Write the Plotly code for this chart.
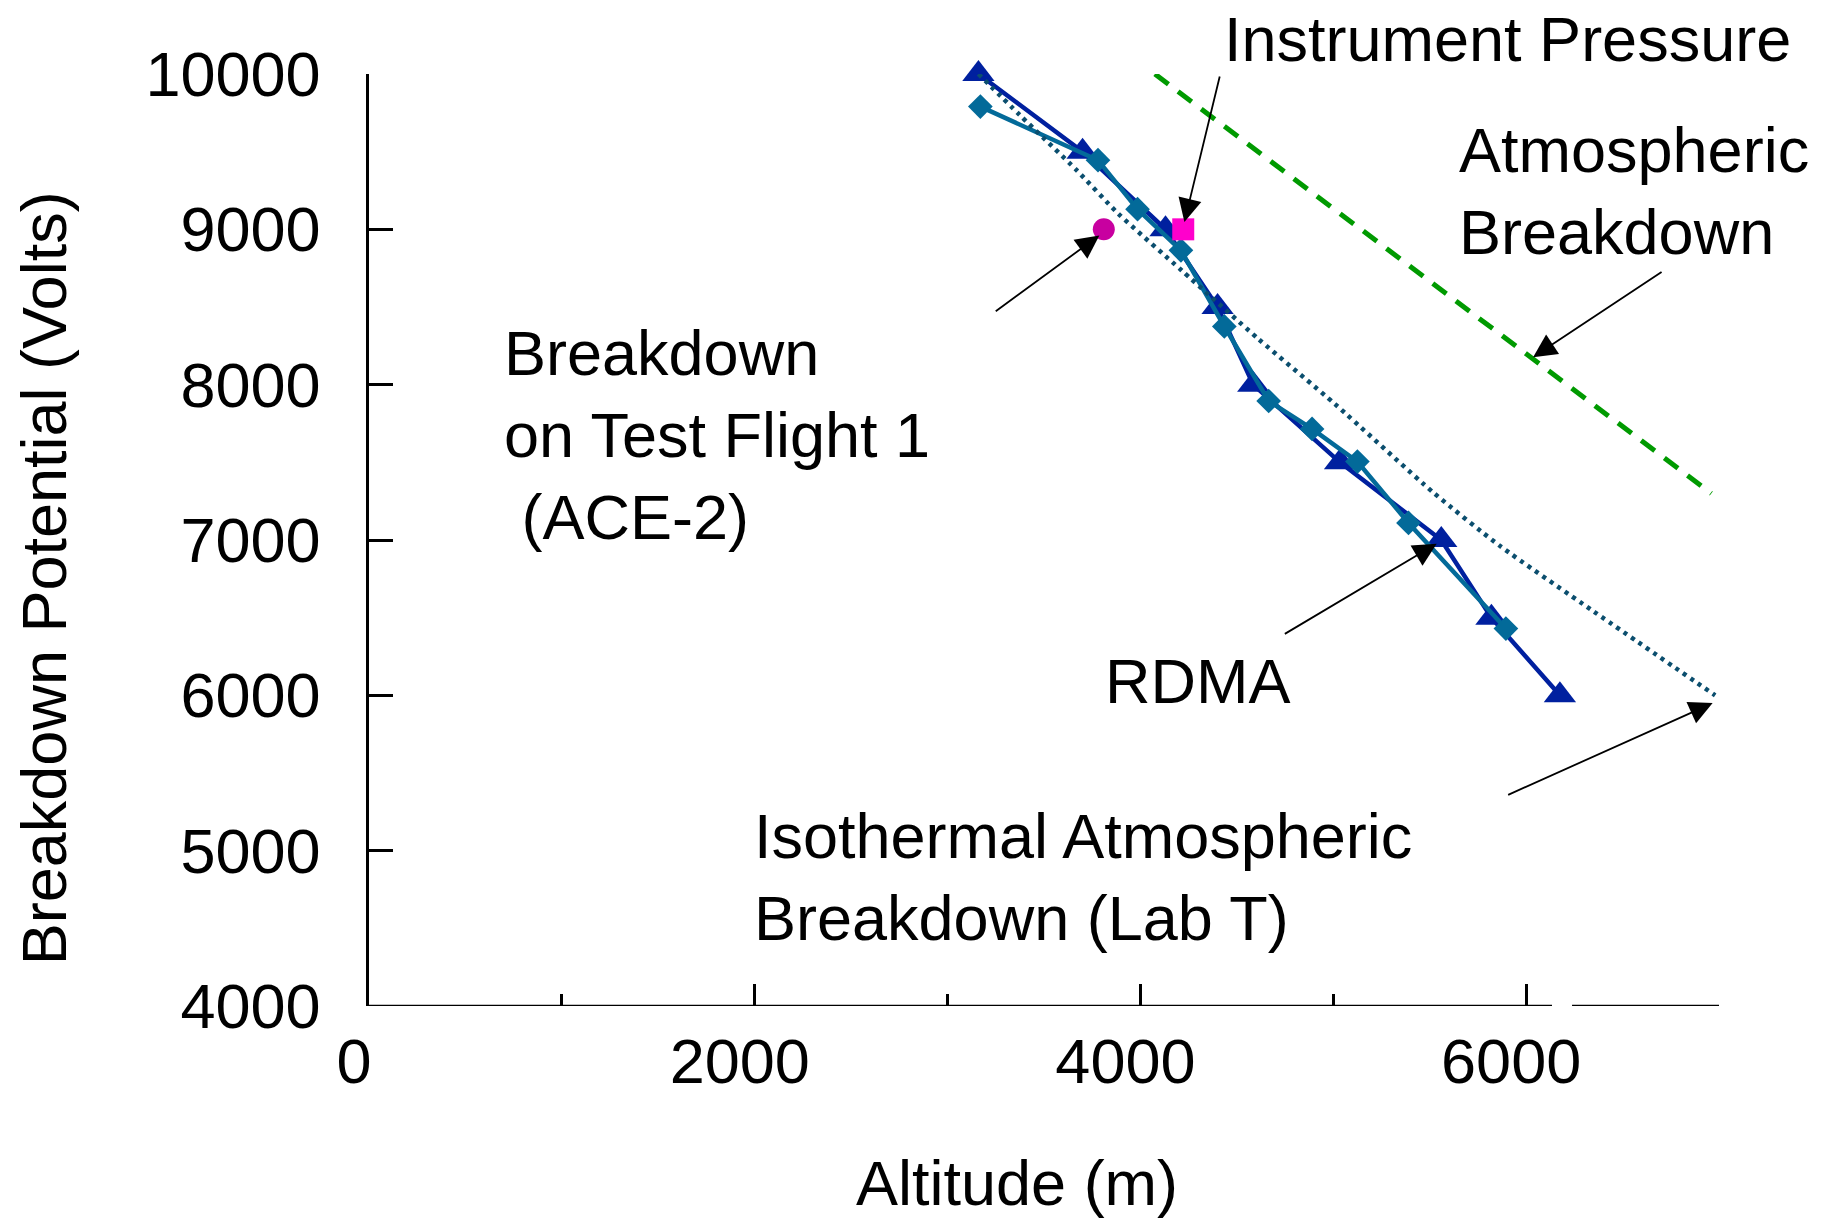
import plotly.graph_objects as go

FONT = "Liberation Sans, Arial, sans-serif"
FS = 63

# RDMA breakdown (triangles)
rdma_alt = [3160, 3700, 4130, 4400, 4585, 5035, 5560, 5820, 6175]
rdma_v = [10000, 9500, 9000, 8500, 8000, 7500, 7000, 6500, 6000]

# Second RDMA run (diamonds)
run2_alt = [3170, 3780, 3985, 4210, 4435, 4665, 4890, 5125, 5390, 5895]
run2_v = [9790, 9445, 9130, 8865, 8375, 7895, 7715, 7505, 7110, 6430]

# Isothermal atmospheric breakdown (lab temperature)
iso_alt = [3160, 3375, 3669, 3885, 4214, 4611, 5009, 5519, 5865, 6348, 6980]
iso_v = [10000, 9735, 9381, 9101, 8735, 8295, 7875, 7305, 6961, 6542, 6000]

# Atmospheric breakdown
atm_alt = [4075, 6960]
atm_v = [10000, 7300]

# Single points
flight_alt, flight_v = [3810], [9000]
instr_alt, instr_v = [4222], [9000]

# Axis break on the altitude axis
x_break = [6134, 6238]
x_min, x_max = 0, 7000
y_min, y_max = 4000, 10000

fig = go.Figure()

fig.add_trace(go.Scatter(
    x=rdma_alt, y=rdma_v, mode="lines+markers", cliponaxis=False,
    line=dict(color="#00209F", width=4.5),
    marker=dict(symbol="triangle-up", size=28, color="#00209F"),
))
fig.add_trace(go.Scatter(
    x=run2_alt, y=run2_v, mode="lines+markers", cliponaxis=False,
    line=dict(color="#036A99", width=4.5),
    marker=dict(symbol="diamond", size=19, color="#036A99"),
))
fig.add_trace(go.Scatter(
    x=iso_alt, y=iso_v, mode="lines", cliponaxis=False,
    line=dict(color="#0B4E6E", width=4.5, dash="4px,5px", shape="spline", smoothing=0.6),
))
fig.add_trace(go.Scatter(
    x=atm_alt, y=atm_v, mode="lines", cliponaxis=False,
    line=dict(color="#009A00", width=5, dash="17px,12px"),
))
fig.add_trace(go.Scatter(
    x=flight_alt, y=flight_v, mode="markers", cliponaxis=False,
    marker=dict(symbol="circle", size=22, color="#C800A0"),
))
fig.add_trace(go.Scatter(
    x=instr_alt, y=instr_v, mode="markers", cliponaxis=False,
    marker=dict(symbol="square", size=22, color="#FF00CC"),
))

# Altitude axis line, drawn in two pieces around the break
axis_line = dict(color="black", width=2.5)
fig.add_shape(type="line", xref="x", yref="y", x0=x_min, x1=x_break[0],
              y0=y_min, y1=y_min, line=axis_line)
fig.add_shape(type="line", xref="x", yref="y", x0=x_break[1], x1=x_max,
              y0=y_min, y1=y_min, line=axis_line)

text_font = dict(family=FONT, size=FS, color="black")


def label(text, x, y, xref="x", yref="y"):
    fig.add_annotation(text=text, x=x, y=y, xref=xref, yref=yref, showarrow=False,
                       xanchor="left", yanchor="middle", align="left",
                       font=text_font)


def arrow(tail, tip):
    fig.add_annotation(text="", x=tip[0], y=tip[1], ax=tail[0], ay=tail[1],
                       xref="x", yref="y", axref="x", ayref="y",
                       showarrow=True, arrowhead=2, arrowsize=2.6,
                       arrowwidth=1.8, arrowcolor="black", standoff=0)


label("Instrument Pressure", 0.6317, 1.0377, xref="paper", yref="paper")
label("Atmospheric<br>Breakdown", 5640, 9248)
label("Breakdown<br>on Test Flight 1<br>\u00a0(ACE-2)", 690, 7675)
label("RDMA", 3808, 6094)
label("Isothermal Atmospheric<br>Breakdown (Lab T)", 1985, 4830)

arrow((4413, 9994), (4228, 9047))
arrow((6710, 8732), (6036, 8177))
arrow((3242, 8466), (3787, 8961))
arrow((4741, 6390), (5536, 6976))
arrow((5899, 5355), (6967, 5950))

# Axis titles
fig.add_annotation(text="Altitude (m)", x=0.48, y=-0.19, xref="paper", yref="paper",
                   showarrow=False, xanchor="center", yanchor="middle", font=text_font)
fig.add_annotation(text="Breakdown Potential (Volts)", x=-0.2407, y=0.459,
                   xref="paper", yref="paper", showarrow=False, textangle=-90,
                   xanchor="center", yanchor="middle", font=text_font)

fig.update_layout(
    width=1821, height=1219,
    margin=dict(l=369, r=102, t=74, b=213),
    paper_bgcolor="white", plot_bgcolor="white",
    showlegend=False,
    font=dict(family=FONT, size=FS, color="black"),
)
fig.update_xaxes(
    range=[x_min, x_max], showgrid=False, zeroline=False, showline=False,
    ticks="inside", ticklen=22, tickwidth=2.5, tickcolor="black",
    tick0=0, dtick=2000, tickformat="d",
    tickfont=dict(family=FONT, size=FS, color="black"),
    ticklabelstandoff=13, ticklabelshift=-15,
    minor=dict(ticks="inside", dtick=1000, ticklen=12, tickwidth=2.5, tickcolor="black"),
)
fig.update_yaxes(
    range=[y_min, y_max], showgrid=False, zeroline=False,
    showline=True, linecolor="black", linewidth=2.5,
    ticks="inside", ticklen=24, tickwidth=2.5, tickcolor="black",
    tick0=0, dtick=1000, tickformat="d",
    tickfont=dict(family=FONT, size=FS, color="black"),
    ticklabelstandoff=33,
)

fig.write_html("out.html")
